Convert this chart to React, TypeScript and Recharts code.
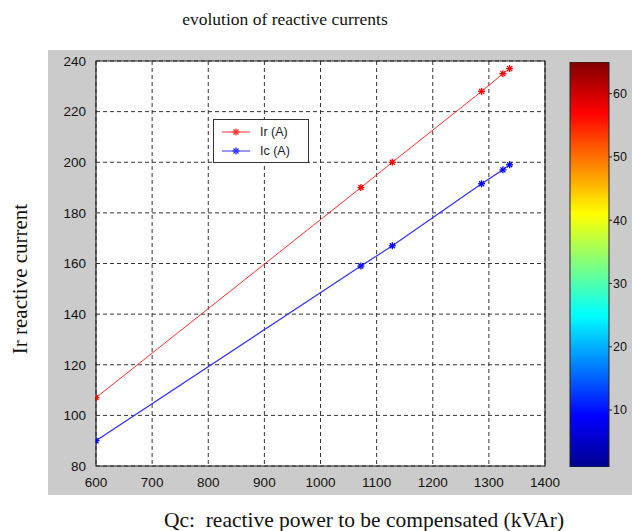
import {
  Bar, BarChart, CartesianGrid, Line, LineChart, ReferenceArea, XAxis, YAxis,
} from "recharts";

const qc = [600, 1072, 1128, 1287, 1325, 1337];
const ir = [107, 190, 200, 228, 235, 237];
const ic = [90, 159, 167, 191.5, 197, 199];
const xTicks = [600, 700, 800, 900, 1000, 1100, 1200, 1300, 1400];
const yTicks = [80, 100, 120, 140, 160, 180, 200, 220, 240];
const cbTicks = [10, 20, 30, 40, 50, 60];
const cbRange: [number, number] = [1, 65];

const rows = qc.map((q, i) => ({ qc: q, ir: ir[i], ic: ic[i] }));
const cbRows = [{ name: "c", range: cbRange }];

const W = 632;
const H = 531;
const tickFont = { fontSize: 13.5, fontFamily: "'Liberation Sans', Arial, sans-serif", fill: "#111" };
const serif = "'Liberation Serif', 'Times New Roman', serif";

// matlab style '*' marker
function Star({ cx, cy, color }: { cx?: number; cy?: number; color: string }) {
  if (cx == null || cy == null) return null;
  const r = 3.5, d = 2.5;
  return (
    <g stroke={color} strokeWidth={1.3}>
      <line x1={cx - r} y1={cy} x2={cx + r} y2={cy} />
      <line x1={cx} y1={cy - r} x2={cx} y2={cy + r} />
      <line x1={cx - d} y1={cy - d} x2={cx + d} y2={cy + d} />
      <line x1={cx - d} y1={cy + d} x2={cx + d} y2={cy - d} />
    </g>
  );
}

function LegendBox() {
  const item = (color: string, text: string) => (
    <div style={{ display: "flex", alignItems: "center", height: 19 }}>
      <svg width={32} height={12}>
        <line x1={2} y1={6} x2={30} y2={6} stroke={color} strokeWidth={1} />
        <Star cx={16} cy={6} color={color} />
      </svg>
      <span style={{ marginLeft: 8, fontSize: 12.5, fontFamily: tickFont.fontFamily, color: "#222" }}>{text}</span>
    </div>
  );
  return (
    <div style={{ position: "absolute", left: 213, top: 119, boxSizing: "border-box", width: 96, height: 44,
                  border: "1px solid #333", background: "#fff", padding: "2px 6px" }}>
      {item("#ff3030", "Ir (A)")}
      {item("#3030ff", "Ic (A)")}
    </div>
  );
}

export default function App() {
  return (
    <div style={{ position: "absolute", left: 0, top: 0, width: W, height: H, background: "#fff" }}>
      <div style={{ position: "absolute", left: 48, top: 50, width: W - 48, height: 445, background: "#cbcbcb" }} />
      <div style={{ position: "absolute", left: 285, top: 9, transform: "translateX(-50%)", whiteSpace: "nowrap",
                    fontFamily: serif, fontSize: 17.5, color: "#111" }}>
        evolution of reactive currents
      </div>
      <div style={{ position: "absolute", left: 20, top: 279, transform: "translate(-50%, -50%) rotate(-90deg)",
                    whiteSpace: "nowrap", fontFamily: serif, fontSize: 21, color: "#111" }}>
        Ir reactive current
      </div>
      <div style={{ position: "absolute", left: 364, top: 508, transform: "translateX(-50%)", whiteSpace: "pre",
                    fontFamily: serif, fontSize: 21.5, color: "#111" }}>
        {"Qc:  reactive power to be compensated (kVAr)"}
      </div>

      <div style={{ position: "absolute", left: 0, top: 0 }}>
        <LineChart width={W} height={H} data={rows} margin={{ top: 61, right: 87, bottom: 41, left: 58 }}>
          <CartesianGrid stroke="#333" strokeDasharray="4 3" fill="#fff" fillOpacity={1} />
          <XAxis dataKey="qc" type="number" domain={[600, 1400]} ticks={xTicks} allowDataOverflow
                 tickLine={false} axisLine={false} tick={tickFont} tickMargin={5} height={24} />
          <YAxis type="number" domain={[80, 240]} ticks={yTicks} tickLine={false} axisLine={false}
                 tick={tickFont} tickMargin={4} width={38} />
          <ReferenceArea x1={600} x2={1400} y1={80} y2={240} fill="none" stroke="#222" strokeWidth={1.2} />
          <Line dataKey="ir" stroke="#ff3030" strokeWidth={1} isAnimationActive={false}
                dot={(p: any) => <Star key={"r" + p.index} cx={p.cx} cy={p.cy} color="#ff0000" />} activeDot={false} />
          <Line dataKey="ic" stroke="#3030ff" strokeWidth={1.2} isAnimationActive={false}
                dot={(p: any) => <Star key={"b" + p.index} cx={p.cx} cy={p.cy} color="#0000ff" />} activeDot={false} />
        </LineChart>
      </div>
      <LegendBox />

      {/* colorbar */}
      <div style={{ position: "absolute", left: 0, top: 0 }}>
        <BarChart width={W} height={H} data={cbRows} barCategoryGap={0}
                  margin={{ top: 62, right: 0, bottom: 64, left: 570 }}>
          <defs>
            <linearGradient id="jet" x1="0" y1="0" x2="0" y2="1">
              <stop offset="0" stopColor="#800000" />
              <stop offset="0.125" stopColor="#ff0000" />
              <stop offset="0.375" stopColor="#ffff00" />
              <stop offset="0.625" stopColor="#00ffff" />
              <stop offset="0.875" stopColor="#0000ff" />
              <stop offset="1" stopColor="#00008f" />
            </linearGradient>
          </defs>
          <XAxis dataKey="name" hide />
          <YAxis orientation="right" type="number" domain={cbRange} ticks={cbTicks} width={23} allowDataOverflow
                 tick={{ ...tickFont, fontSize: 12.5 }} tickLine={{ stroke: "#222" }} tickSize={3} tickMargin={1}
                 axisLine={false} />
          <Bar dataKey="range" fill="url(#jet)" stroke="#222" strokeWidth={1} isAnimationActive={false} />
        </BarChart>
      </div>
    </div>
  );
}
